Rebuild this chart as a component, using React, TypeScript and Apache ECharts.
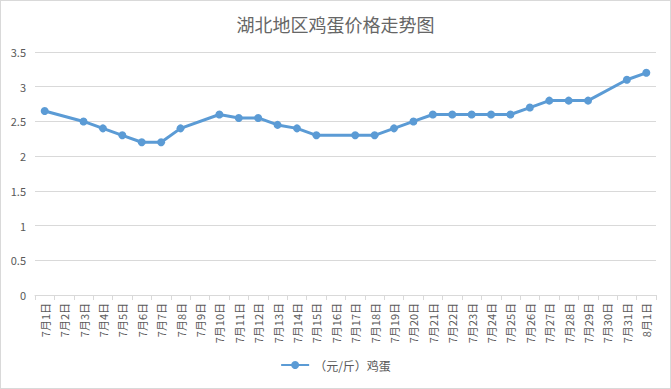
import React, { useEffect, useRef } from "react";
import * as echarts from "echarts";

const categories = [
  "7月1日", "7月2日", "7月3日", "7月4日", "7月5日", "7月6日", "7月7日", "7月8日",
  "7月9日", "7月10日", "7月11日", "7月12日", "7月13日", "7月14日", "7月15日", "7月16日",
  "7月17日", "7月18日", "7月19日", "7月20日", "7月21日", "7月22日", "7月23日", "7月24日",
  "7月25日", "7月26日", "7月27日", "7月28日", "7月29日", "7月30日", "7月31日", "8月1日",
];
const eggPrices: (number | null)[] = [
  2.65, null, 2.5, 2.4, 2.3, 2.2, 2.2, 2.4,
  null, 2.6, 2.55, 2.55, 2.45, 2.4, 2.3, null,
  2.3, 2.3, 2.4, 2.5, 2.6, 2.6, 2.6, 2.6,
  2.6, 2.7, 2.8, 2.8, 2.8, null, 3.1, 3.2,
];
const seriesName = "（元/斤）鸡蛋";
const title = "湖北地区鸡蛋价格走势图";

const FONT = "'Noto Sans CJK SC', 'Noto Sans', sans-serif";

export default function App() {
  const ref = useRef<HTMLDivElement>(null);
  useEffect(() => {
    if (!ref.current) return;
    const chart = echarts.init(ref.current, undefined, { renderer: "svg" });
    chart.setOption({
      animation: false,
      backgroundColor: "#ffffff",
      textStyle: { fontFamily: FONT },
      title: {
        text: title,
        left: "center",
        top: 9,
        textStyle: { fontSize: 18, fontWeight: "normal", color: "#666666", fontFamily: FONT },
      },
      legend: {
        bottom: 12,
        left: "center",
        itemWidth: 28,
        itemHeight: 10,
        textStyle: { fontSize: 12, color: "#595959", fontFamily: FONT },
        data: [seriesName],
      },
      grid: { left: 34, right: 14, top: 51, bottom: 93 },
      xAxis: {
        type: "category",
        data: categories,
        boundaryGap: true,
        axisLine: { lineStyle: { color: "#d9d9d9", width: 1 } },
        axisTick: { show: true, length: 5, lineStyle: { color: "#d9d9d9" } },
        axisLabel: {
          rotate: 90,
          interval: 0,
          fontSize: 11,
          color: "#595959",
          margin: 8,
          fontFamily: FONT,
        },
      },
      yAxis: {
        type: "value",
        min: 0,
        max: 3.5,
        interval: 0.5,
        axisLine: { show: false },
        axisTick: { show: false },
        splitLine: { lineStyle: { color: "#d9d9d9", width: 1 } },
        axisLabel: { fontSize: 11, color: "#595959", margin: 9, fontFamily: FONT },
      },
      series: [
        {
          name: seriesName,
          type: "line",
          data: eggPrices,
          connectNulls: true,
          symbol: "circle",
          symbolSize: 8,
          itemStyle: { color: "#5B9BD5" },
          lineStyle: { color: "#5B9BD5", width: 3 },
        },
      ],
    });
    return () => chart.dispose();
  }, []);
  return (
    <div
      ref={ref}
      style={{
        position: "fixed",
        left: 0,
        top: 0,
        width: 671,
        height: 389,
        boxSizing: "border-box",
        border: "1px solid #d9d9d9",
      }}
    />
  );
}
